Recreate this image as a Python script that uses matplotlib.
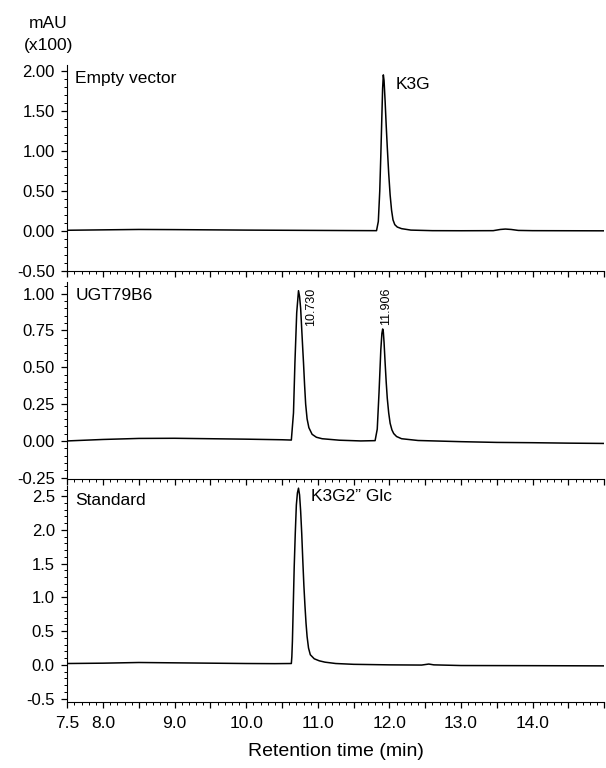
import numpy as np
import matplotlib
matplotlib.use('Agg')
import matplotlib.pyplot as plt
from matplotlib.ticker import MultipleLocator, FixedLocator, FixedFormatter, FormatStrFormatter

plt.rcParams['font.family'] = ['Liberation Sans', 'DejaVu Sans']

# Empty vector trace (retention time in min, mAU x100)
t_empty = [7.5, 8.0, 8.5, 9.0, 9.5, 10.0, 10.5, 11.0, 11.5, 11.82,
           11.845, 11.865, 11.88, 11.895, 11.905, 11.915, 11.925, 11.94, 11.955, 11.97,
           11.99, 12.01, 12.03, 12.05, 12.075, 12.11, 12.17, 12.3, 12.6, 13.0,
           13.45, 13.55, 13.62, 13.7, 13.8, 14.0, 14.5, 15.0]
y_empty = [0.010, 0.015, 0.020, 0.018, 0.015, 0.012, 0.010, 0.008, 0.006, 0.005,
           0.12, 0.50, 0.95, 1.45, 1.78, 1.95, 1.88, 1.62, 1.32, 1.05,
           0.72, 0.45, 0.26, 0.14, 0.08, 0.05, 0.03, 0.012, 0.005, 0.004,
           0.005, 0.020, 0.025, 0.020, 0.008, 0.005, 0.004, 0.003]

# UGT79B6 trace
t_ugt = [7.5, 8.0, 8.5, 9.0, 9.5, 10.0, 10.5, 10.63,
         10.66, 10.68, 10.705, 10.73, 10.745, 10.76, 10.775, 10.79, 10.80, 10.815,
         10.83, 10.85, 10.875, 10.92, 10.98, 11.06, 11.3, 11.6, 11.80,
         11.83, 11.855, 11.88, 11.895, 11.906, 11.915, 11.925, 11.94, 11.955,
         11.97, 11.99, 12.01, 12.035, 12.06, 12.1, 12.17, 12.4, 13.0, 13.5,
         14.0, 14.5, 15.0]
y_ugt = [0.000, 0.010, 0.017, 0.018, 0.015, 0.012, 0.008, 0.006,
         0.19, 0.53, 0.87, 1.02, 0.98, 0.90, 0.76, 0.62, 0.53, 0.38,
         0.25, 0.15, 0.09, 0.045, 0.025, 0.015, 0.005, 0.0, 0.002,
         0.08, 0.33, 0.62, 0.73, 0.76, 0.74, 0.67, 0.53, 0.40,
         0.29, 0.19, 0.12, 0.075, 0.05, 0.03, 0.015, 0.003, -0.005, -0.01,
         -0.012, -0.015, -0.017]

# Standard trace
t_std = [7.5, 8.0, 8.5, 9.0, 9.5, 10.0, 10.4, 10.63,
         10.637, 10.645, 10.67, 10.685, 10.70, 10.715, 10.73, 10.745, 10.76, 10.775,
         10.79, 10.805, 10.82, 10.835, 10.85, 10.87, 10.895, 10.95, 11.02, 11.1,
         11.25, 11.5, 12.0, 12.45, 12.55, 12.62, 13.0, 14.0, 15.0]
y_std = [0.020, 0.025, 0.035, 0.030, 0.025, 0.020, 0.018, 0.020,
         0.12, 0.35, 1.45, 1.95, 2.37, 2.55, 2.62, 2.52, 2.28, 1.95,
         1.55, 1.18, 0.88, 0.62, 0.42, 0.25, 0.15, 0.09, 0.06, 0.04,
         0.02, 0.008, 0.0, -0.003, 0.012, 0.0, -0.01, -0.012, -0.015]

x_major = np.arange(7.5, 15.01, 0.5)
x_labels = ['7.5', '8.0', '', '9.0', '', '10.0', '', '11.0', '', '12.0', '', '13.0', '', '14.0', '', '']

panels = [
    # (t, y, ylim, major, minor, fmt, name, axes rect)
    (t_empty, y_empty, (-0.5, 2.07), 0.5, 0.1, '%.2f', 'Empty vector', [0.111, 0.647, 0.886, 0.268]),
    (t_ugt, y_ugt, (-0.26, 1.08), 0.25, 0.05, '%.2f', 'UGT79B6', [0.111, 0.376, 0.886, 0.257]),
    (t_std, y_std, (-0.55, 2.65), 0.5, 0.1, '%.1f', 'Standard', [0.111, 0.086, 0.886, 0.281]),
]

fig = plt.figure(figsize=(6.06, 7.68), dpi=100)
axes = []
for t, y, ylim, maj, mnr, fmt, name, rect in panels:
    ax = fig.add_axes(rect)
    ax.plot(t, y, color='black', lw=1.1)
    ax.set_xlim(7.5, 15.0)
    ax.set_ylim(*ylim)
    ax.spines['top'].set_visible(False)
    ax.spines['right'].set_visible(False)
    ax.yaxis.set_major_locator(MultipleLocator(maj))
    ax.yaxis.set_minor_locator(MultipleLocator(mnr))
    ax.yaxis.set_major_formatter(FormatStrFormatter(fmt))
    ax.xaxis.set_major_locator(FixedLocator(x_major))
    ax.xaxis.set_minor_locator(MultipleLocator(0.1))
    ax.tick_params(which='major', direction='out', length=4, width=0.9, labelsize=12)
    ax.tick_params(axis='y', pad=5)
    ax.tick_params(which='minor', direction='out', length=2, width=0.7)
    ax.xaxis.set_major_formatter(FixedFormatter([''] * len(x_major)))
    ax.text(0.015, 0.97, name, transform=ax.transAxes, fontsize=12.5, va='top', ha='left')
    axes.append(ax)

axes[2].xaxis.set_major_formatter(FixedFormatter(x_labels))
axes[2].tick_params(axis='x', labelsize=12.5, pad=6)
axes[2].set_xlabel('Retention time (min)', fontsize=14, labelpad=9)

axes[0].text(12.08, 1.83, 'K3G', fontsize=12.5, va='center', ha='left')
axes[1].text(10.90, 1.04, '10.730', fontsize=9, rotation=90, va='top', ha='center')
axes[1].text(11.95, 1.04, '11.906', fontsize=9, rotation=90, va='top', ha='center')
axes[2].text(10.91, 2.5, 'K3G2\u201d Glc', fontsize=12.5, va='center', ha='left')

fig.text(0.080, 0.969, 'mAU', fontsize=12.5, ha='center', va='center')
fig.text(0.080, 0.941, '(x100)', fontsize=12.5, ha='center', va='center')

fig.savefig('out.png', dpi=100)
